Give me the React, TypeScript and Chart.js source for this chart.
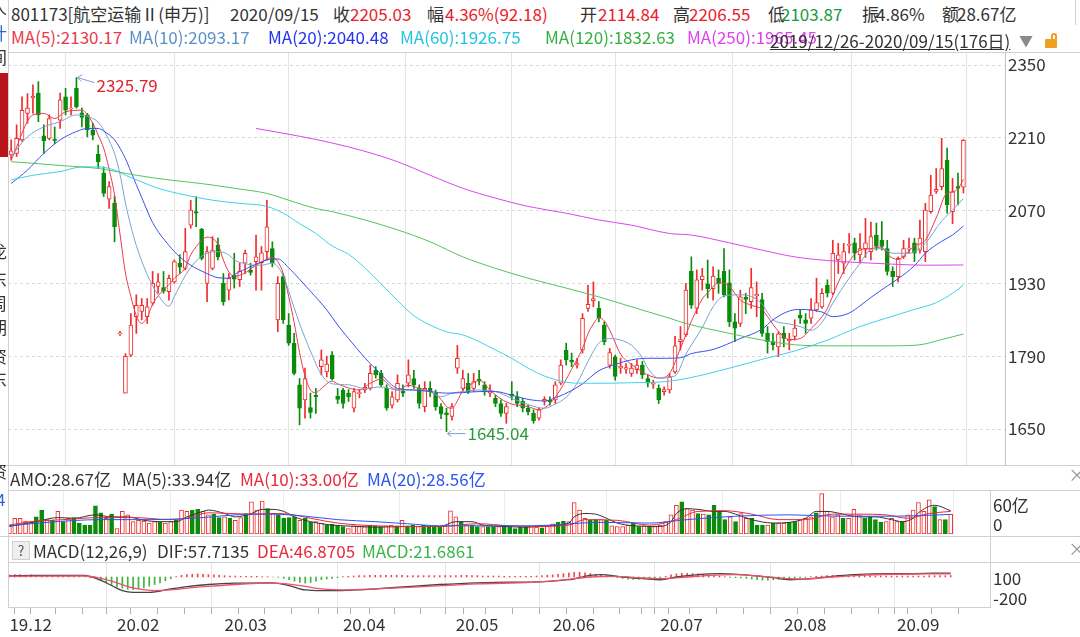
import React, { useEffect, useRef } from "react";
import { Chart, registerables } from "chart.js";
Chart.register(...registerables);

const FONT = '"Microsoft YaHei","Noto Sans CJK SC","Noto Sans",sans-serif';

// ---------------- data ----------------
const openP = [
  2177, 2180, 2206, 2257, 2287, 2296, 2214, 2209, 2207, 2244,
  2289, 2266, 2305, 2258, 2254, 2225, 2178, 2142, 2092, 2084,
  1833, 1719, 1792, 1866, 1876, 1866, 1892, 1924, 1922, 1914,
  1933, 1969, 1959, 2042, 2068, 2034, 1930, 1959, 2004, 1930,
  1917, 1946, 1937, 1969, 1955, 1972, 1970, 1991, 1997, 1860,
  1943, 1850, 1815, 1735, 1706, 1691, 1715, 1770, 1760, 1792,
  1713, 1725, 1719, 1690, 1718, 1725, 1728, 1763, 1757, 1728,
  1696, 1706, 1723, 1738, 1747, 1728, 1693, 1728, 1719, 1693,
  1681, 1674, 1767, 1728, 1738, 1728, 1746, 1735, 1719, 1709,
  1699, 1680, 1717, 1712, 1703, 1690, 1680, 1671, 1703, 1705,
  1706, 1738, 1802, 1782, 1773, 1802, 1882, 1897, 1882, 1850,
  1773, 1789, 1767, 1765, 1757, 1764, 1773, 1747, 1736, 1728,
  1722, 1725, 1760, 1818, 1831, 1953, 1882, 1937, 1929, 1920,
  1940, 1953, 1931, 1856, 1853, 1903, 1895, 1906, 1899, 1834,
  1818, 1808, 1834, 1820, 1828, 1869, 1860, 1863, 1879, 1885,
  1927, 1911, 1975, 1969, 2003, 2008, 1985, 1997, 1991, 2023,
  2013, 1997, 1953, 1943, 1981, 1996, 2008, 1994, 1991, 2068,
  2107, 2116, 2167, 2068, 2116, 2114.84,
];
const highP = [
  2206, 2235, 2289, 2295, 2312, 2318, 2235, 2254, 2231, 2296,
  2305, 2289, 2325.79, 2267, 2257, 2238, 2196, 2154, 2126, 2097,
  1838, 1795, 1872, 1908, 1901, 1901, 1953, 1949, 1953, 1946,
  1975, 1985, 2036, 2090, 2097, 2036, 2001, 2020, 2017, 1949,
  1949, 1988, 1969, 1994, 1969, 2023, 2001, 2090, 2010, 1943,
  1949, 1872, 1834, 1747, 1767, 1719, 1728, 1802, 1790, 1799,
  1728, 1728, 1726, 1728, 1726, 1738, 1773, 1770, 1763, 1735,
  1722, 1754, 1735, 1783, 1763, 1735, 1741, 1741, 1725, 1699,
  1690, 1699, 1811, 1763, 1757, 1757, 1763, 1741, 1735, 1715,
  1706, 1699, 1741, 1722, 1709, 1696, 1687, 1690, 1712, 1712,
  1741, 1783, 1815, 1796, 1786, 1872, 1927, 1933, 1895, 1856,
  1805, 1792, 1786, 1776, 1776, 1783, 1780, 1754, 1744, 1735,
  1731, 1757, 1828, 1847, 1930, 1981, 1956, 1959, 1975, 1962,
  1956, 1997, 1956, 1872, 1917, 1911, 1959, 1933, 1911, 1847,
  1834, 1837, 1847, 1834, 1860, 1879, 1872, 1901, 1940, 1920,
  1937, 2013, 2007, 2007, 2026, 2017, 2026, 2055, 2048, 2046,
  2049, 2013, 1962, 1981, 2013, 2017, 2017, 2052, 2084, 2138,
  2151, 2209, 2190, 2132, 2142, 2206.55,
];
const lowP = [
  2167, 2174, 2203, 2238, 2257, 2241, 2180, 2206, 2199, 2228,
  2254, 2254, 2267, 2231, 2212, 2206, 2151, 2097, 2074, 2010,
  1830, 1719, 1789, 1834, 1860, 1853, 1888, 1911, 1911, 1898,
  1930, 1949, 1956, 2036, 2039, 1975, 1895, 1956, 1975, 1888,
  1898, 1921, 1924, 1949, 1946, 1917, 1917, 1975, 1962, 1837,
  1853, 1811, 1754, 1658, 1671, 1671, 1680, 1754, 1750, 1744,
  1699, 1690, 1703, 1683, 1710, 1720, 1725, 1748, 1731, 1686,
  1690, 1702, 1712, 1731, 1728, 1690, 1683, 1712, 1686, 1670,
  1645.04, 1667, 1757, 1722, 1718, 1722, 1735, 1715, 1712, 1693,
  1674, 1661, 1706, 1693, 1683, 1677, 1661, 1667, 1696, 1696,
  1699, 1735, 1773, 1770, 1767, 1796, 1876, 1885, 1856, 1812,
  1767, 1744, 1757, 1757, 1751, 1757, 1747, 1731, 1728, 1699,
  1715, 1719, 1757, 1802, 1828, 1882, 1872, 1917, 1902, 1898,
  1911, 1904, 1847, 1818, 1847, 1872, 1882, 1866, 1828, 1796,
  1802, 1789, 1808, 1802, 1821, 1853, 1834, 1853, 1876, 1882,
  1904, 1908, 1949, 1949, 1988, 1975, 1969, 1980, 1975, 1994,
  1994, 1946, 1924, 1933, 1978, 1988, 1972, 1988, 1972, 2065,
  2103, 2110, 2065, 2045, 2081, 2103.87,
];
const closeP = [
  2185, 2209, 2263, 2267, 2290, 2254, 2204, 2247, 2205, 2283,
  2263, 2267, 2270, 2249, 2225, 2215, 2164, 2103, 2116, 2039,
  1835, 1790, 1850, 1888, 1888, 1885, 1930, 1933, 1915, 1940,
  1972, 1961, 1991, 2071, 2065, 1978, 1991, 1994, 1981, 1895,
  1940, 1938, 1953, 1988, 1951, 1981, 1989, 2039, 1969, 1930,
  1860, 1815, 1757, 1690, 1747, 1682, 1712, 1783, 1775, 1747,
  1707, 1699, 1712, 1722, 1720, 1730, 1757, 1754, 1735, 1690,
  1712, 1738, 1719, 1754, 1735, 1699, 1728, 1722, 1693, 1679,
  1677, 1693, 1786, 1747, 1722, 1741, 1742, 1722, 1725, 1699,
  1680, 1693, 1713, 1699, 1690, 1683, 1666, 1687, 1707, 1702,
  1735, 1773, 1783, 1779, 1776, 1863, 1890, 1901, 1863, 1818,
  1797, 1751, 1771, 1768, 1767, 1773, 1754, 1738, 1739, 1706,
  1726, 1751, 1810, 1822, 1917, 1888, 1937, 1944, 1920, 1944,
  1930, 1908, 1856, 1844, 1904, 1899, 1922, 1909, 1834, 1818,
  1812, 1833, 1824, 1823, 1844, 1863, 1853, 1879, 1893, 1911,
  1911, 1988, 1985, 1991, 2005, 1988, 1997, 2008, 2020, 2001,
  2001, 1953, 1943, 1978, 1997, 1998, 1988, 2017, 2071, 2100,
  2111, 2151, 2081, 2106, 2112.85, 2205.03,
];
// turnover (亿)
const amount = [
  13, 23, 23, 19, 18, 25, 35, 21, 20, 33,
  18, 23, 24, 16, 13, 13, 41, 31, 23, 29,
  8, 33, 28, 18, 20, 19, 16, 18, 17, 16,
  18, 20, 35, 33, 35, 36, 33, 28, 29, 24,
  25, 23, 20, 24, 30, 47, 35, 48, 37, 30,
  28, 23, 24, 25, 20, 23, 17, 18, 16, 13,
  14, 12, 11, 8, 12, 11, 11, 13, 12, 11,
  12, 13, 12, 20, 12, 13, 11, 13, 12, 11,
  11, 12, 34, 25, 18, 13, 13, 11, 11, 11,
  11, 11, 12, 11, 8, 10, 10, 11, 10, 9,
  12, 15, 17, 19, 18, 46, 35, 23, 20, 21,
  21, 20, 12, 11, 11, 13, 16, 11, 12, 11,
  11, 13, 18, 28, 42, 47, 37, 35, 30, 29,
  28, 42, 33, 21, 25, 18, 30, 23, 23, 13,
  13, 13, 16, 16, 16, 17, 18, 21, 23, 25,
  31, 59, 33, 25, 28, 23, 23, 36, 28, 23,
  25, 21, 17, 18, 23, 18, 18, 28, 35, 46,
  33, 50, 40, 21, 21, 28.67,
];
const macdBar = [
  30, 35, 35, 30, 30, 25, 25, 20, 20, 15,
  15, 10, 10, 5, 0, -10, -25, -50, -80, -110,
  -140, -165, -180, -185, -175, -160, -135, -110, -85, -55,
  -25, 5, 25, 35, 40, 45, 40, 35, 30, 25,
  20, 15, 15, 10, 10, 10, 10, 5, 5, 0,
  -5, -20, -40, -60, -80, -90, -80, -60, -40, -30,
  -20, -10, 5, 10, 15, 20, 20, 25, 25, 25,
  25, 25, 25, 25, 20, 20, 20, 20, 20, 20,
  20, 20, 20, 20, 25, 25, 20, 20, 15, 15,
  15, 15, 10, 10, 10, 10, 10, 10, 15, 20,
  25, 30, 40, 50, 60, 70, 70, 60, 50, 40,
  30, 20, 10, -10, -20, -30, -35, -35, -30, -25,
  -20, -10, 10, 30, 45, 55, 55, 50, 45, 40,
  30, 25, 15, 5, -5, -10, -15, -20, -30, -40,
  -45, -45, -40, -35, -30, -20, -15, -10, -5, 5,
  10, 15, 20, 25, 25, 25, 20, 20, 20, 20,
  20, 15, 15, 15, 15, 15, 15, 15, 15, 15,
  15, 20, 20, 20, 20, 21.69,
];

// moving-average lines, [day index, value]
const ma5Pts = [[0,2167],[4,2254],[6,2257],[8,2247],[10,2260],[13,2263],[15,2238],[16,2215],[17,2190],[18,2150],[19,2100],[20,2025],[21,1950],[22,1905],[23,1868],[24,1853],[25,1865],[26,1890],[28,1918],[29,1928],[30,1940],[32,1960],[33,1985],[35,2012],[36,2019],[38,2005],[39,1975],[40,1952],[41,1944],[43,1950],[44,1958],[46,1971],[48,1980],[49,1972],[50,1949],[51,1905],[52,1855],[53,1797],[54,1752],[55,1725],[56,1720],[57,1728],[59,1742],[60,1737],[62,1729],[64,1725],[66,1738],[68,1746],[70,1729],[71,1725],[73,1734],[75,1728],[77,1722],[79,1707],[80,1693],[81,1690],[82,1704],[83,1724],[85,1739],[86,1744],[88,1725],[90,1708],[92,1698],[94,1695],[95,1693],[97,1687],[99,1699],[101,1727],[103,1765],[105,1805],[106,1833],[107,1852],[108,1864],[109,1858],[110,1840],[112,1794],[114,1774],[116,1760],[117,1754],[119,1748],[121,1757],[123,1805],[125,1857],[127,1900],[128,1912],[130,1931],[131,1930],[132,1924],[134,1898],[136,1888],[138,1880],[139,1866],[141,1838],[143,1822],[145,1824],[147,1843],[149,1866],[150,1882],[152,1932],[154,1972],[156,1994],[158,1997],[160,2000],[161,1986],[163,1976],[165,1993],[166,2002],[168,2013],[170,2056],[172,2104],[173,2106],[174,2112],[175,2130.17]];
const ma10Pts = [[0,2174],[3,2212],[6,2231],[9,2241],[12,2254],[14,2251],[16,2240],[17,2225],[18,2205],[19,2180],[20,2140],[21,2085],[22,2040],[23,2003],[25,1947],[27,1908],[29,1886],[30,1905],[32,1945],[34,1973],[36,1988],[38,1991],[40,1985],[41,1975],[43,1968],[45,1965],[46,1965],[48,1969],[50,1945],[51,1915],[53,1853],[55,1800],[57,1755],[59,1737],[62,1735],[65,1728],[68,1731],[71,1725],[74,1725],[77,1722],[79,1712],[81,1719],[83,1722],[86,1725],[89,1722],[92,1709],[95,1697],[98,1690],[100,1698],[102,1711],[104,1738],[106,1780],[108,1815],[110,1824],[112,1821],[114,1811],[116,1787],[117,1767],[119,1748],[122,1752],[124,1794],[127,1845],[129,1885],[131,1906],[134,1908],[136,1905],[138,1890],[140,1860],[143,1852],[145,1847],[147,1840],[149,1855],[151,1892],[154,1940],[156,1969],[158,1995],[160,1997],[162,1988],[165,1988],[166,1991],[168,2007],[171,2050],[173,2071],[175,2093.17]];
const ma20Pts = [[0,2122],[3,2148],[6,2180],[9,2206],[12,2222],[14,2228],[16,2228],[17,2223],[19,2206],[21,2170],[22,2145],[24,2095],[26,2047],[29,2003],[31,1981],[33,1965],[36,1949],[38,1941],[40,1940],[41,1947],[44,1962],[47,1975],[49,1977],[51,1960],[53,1938],[55,1915],[58,1879],[60,1850],[62,1824],[65,1787],[68,1755],[71,1728],[74,1725],[77,1722],[80,1719],[83,1720],[86,1722],[89,1722],[92,1715],[95,1707],[98,1704],[100,1710],[103,1724],[105,1737],[108,1762],[111,1774],[114,1783],[117,1786],[120,1786],[123,1787],[125,1795],[129,1803],[134,1824],[138,1842],[140,1860],[143,1877],[145,1880],[149,1875],[151,1866],[154,1873],[156,1887],[158,1903],[161,1925],[163,1939],[166,1964],[168,1988],[171,2011],[173,2023],[175,2040.48]];
const ma60Pts = [[0,2129],[4,2138],[9,2145],[13,2154],[16,2154],[19,2148],[21,2138],[24,2125],[27,2113],[32,2100],[37,2090],[42,2084],[47,2078],[50,2065],[53,2045],[56,2026],[59,2002],[62,1986],[65,1960],[68,1929],[71,1897],[74,1868],[77,1850],[80,1837],[83,1831],[86,1818],[89,1802],[92,1786],[95,1767],[98,1752],[102,1740],[105,1738],[108,1738],[114,1739],[120,1741],[124,1747],[132,1767],[138,1784],[144,1800],[150,1821],[156,1847],[162,1867],[166,1880],[170,1893],[173,1911],[175,1926.75]];
const ma120Pts = [[0,2164],[4,2161],[10,2156],[16,2151],[23,2138],[29,2129],[35,2122],[41,2113],[47,2103],[51,2090],[56,2074],[59,2068],[65,2052],[71,2033],[77,2010],[83,1981],[89,1959],[95,1940],[102,1921],[108,1904],[114,1885],[121,1863],[124,1853],[132,1834],[138,1821],[144,1812],[150,1810],[156,1810],[162,1810],[167,1812],[171,1822],[175,1832.63]];
const ma250Pts = [[45,2228],[53,2213],[59,2200],[65,2184],[71,2164],[77,2138],[83,2113],[89,2094],[95,2078],[102,2065],[108,2052],[114,2042],[121,2026],[125,2023],[132,2008],[138,1994],[144,1981],[150,1974],[156,1970],[162,1967],[168,1965],[175,1965.45]];

const volMa5Pts = [[0,11],[5,18],[9,24],[12,23],[16,28],[19,25],[22,25],[25,20],[28,18],[31,18],[33,25],[36,33],[37,35],[40,30],[42,25],[45,30],[47,36],[49,36],[51,33],[53,25],[56,18],[60,13],[65,11],[68,10],[74,11],[80,11],[83,18],[86,18],[88,13],[92,11],[96,10],[100,12],[104,16],[105,25],[107,30],[109,29],[111,23],[113,16],[116,12],[121,11],[123,18],[124,30],[126,37],[128,36],[131,33],[133,33],[135,29],[138,21],[142,16],[145,17],[148,23],[150,33],[152,33],[155,29],[158,25],[161,25],[164,21],[166,18],[168,23],[169,31],[172,42],[175,33.94]];
const volMa10Pts = [[0,13],[4,18],[10,21],[17,24],[23,24],[30,21],[33,23],[37,31],[41,30],[45,29],[49,30],[52,29],[56,23],[61,16],[68,12],[74,11],[80,11],[87,15],[93,12],[97,11],[104,13],[107,21],[113,20],[119,13],[124,21],[128,33],[133,34],[138,29],[143,21],[148,21],[153,29],[158,29],[163,28],[167,23],[171,30],[175,33.0]];
const volMa20Pts = [[0,12],[7,17],[17,21],[26,21],[36,24],[42,28],[49,29],[55,26],[61,21],[68,18],[74,15],[80,12],[90,12],[97,12],[110,17],[119,16],[126,21],[135,26],[145,28],[154,26],[164,26],[175,28.56]];

const difPts = [[0,15],[5,25],[10,25],[14,25],[17,-50],[19,-125],[21,-200],[23,-225],[26,-225],[30,-175],[33,-140],[37,-110],[42,-90],[49,-85],[52,-125],[55,-190],[58,-200],[61,-200],[65,-190],[68,-175],[74,-140],[80,-110],[87,-85],[93,-75],[97,-75],[104,-40],[108,25],[110,35],[114,0],[118,-25],[121,-40],[124,0],[128,35],[132,50],[136,35],[142,-10],[145,-40],[149,-25],[153,10],[157,35],[164,50],[167,50],[172,55],[175,57.71]];
const deaPts = [[0,10],[14,15],[17,-20],[19,-60],[22,-140],[24,-175],[27,-200],[30,-190],[35,-150],[42,-110],[49,-90],[54,-125],[58,-175],[62,-190],[68,-175],[77,-140],[87,-100],[97,-80],[102,-50],[108,0],[112,10],[118,-15],[121,-25],[126,0],[130,25],[135,35],[140,10],[145,-25],[148,-30],[153,0],[158,25],[164,40],[170,45],[175,46.87]];

const priceTicks = [1650, 1790, 1930, 2070, 2210, 2350];
const monthStartIdx = [20, 40, 62, 83, 101, 121, 144, 165];
const monthLabelIdx = [0, 20, 40, 62, 83, 101, 121, 144, 165];
const monthLabels = ["19.12", "20.02", "20.03", "20.04", "20.05", "20.06", "20.07", "20.08", "20.09"];
const weekStartIdx = [0, 2, 6, 11, 16, 20, 25, 30, 35, 40, 45, 50, 55, 60, 62, 65, 69, 74, 79, 83, 86, 91, 96, 101, 106, 111, 116, 119, 121, 124, 129, 134, 139, 144, 149, 154, 159, 164, 165, 169, 174];

// ---------------- styling ----------------
const RED = "#f02c2c";
const GREEN = "#0a8c0a";
const TXT = "#333333";
const FS = 17;
const C_MA5 = "#ea3a4e";
const C_MA10 = "#7aa2d2";
const C_MA20 = "#3a52ee";
const C_MA60 = "#3fd0ea";
const C_MA120 = "#56c25a";
const C_MA250 = "#dd44f0";

const idx = openP.map((_, i) => i);
const isUp = (i: number) => closeP[i] >= openP[i];
const candleColor = idx.map((i) => (isUp(i) ? RED : GREEN));

const toXY = (pts: number[][]) => pts.map(([x, y]) => ({ x, y }));
const line = (pts: number[][], color: string, width = 1) => ({
  type: "line" as const,
  data: toXY(pts),
  borderColor: color,
  borderWidth: width,
  pointRadius: 0,
  cubicInterpolationMode: "monotone" as const,
  order: 1,
});

const baseOpts = {
  responsive: false,
  animation: false as const,
  devicePixelRatio: 1,
  events: [] as any[],
  plugins: { legend: { display: false }, tooltip: { enabled: false } },
};

const extremaPlugin = {
  id: "extrema",
  afterDatasetsDraw(chart: any) {
    const { ctx, scales } = chart;
    const x = scales.x, y = scales.y;
    let hi = 0, lo = 0;
    highP.forEach((v, i) => { if (v > highP[hi]) hi = i; });
    lowP.forEach((v, i) => { if (v < lowP[lo]) lo = i; });
    ctx.save();
    ctx.font = `${FS}px ${FONT}`;
    ctx.textBaseline = "middle";
    ctx.textAlign = "left";
    ctx.strokeStyle = "#7f9fcf";
    ctx.lineWidth = 1;
    const hx = x.getPixelForValue(hi), hy = y.getPixelForValue(highP[hi]);
    ctx.beginPath(); ctx.moveTo(hx + 1, hy); ctx.lineTo(hx + 18, hy + 5); ctx.stroke();
    ctx.beginPath(); ctx.moveTo(hx + 6, hy - 3); ctx.lineTo(hx + 1, hy); ctx.lineTo(hx + 5, hy + 4); ctx.stroke();
    ctx.fillStyle = "#e0202a";
    ctx.fillText(highP[hi].toFixed(2), hx + 20, hy + 8);
    const lx = x.getPixelForValue(lo), ly = y.getPixelForValue(lowP[lo]);
    ctx.beginPath(); ctx.moveTo(lx + 1, ly + 2); ctx.lineTo(lx + 19, ly + 2); ctx.stroke();
    ctx.beginPath(); ctx.moveTo(lx + 5, ly - 1); ctx.lineTo(lx + 1, ly + 2); ctx.lineTo(lx + 5, ly + 5); ctx.stroke();
    ctx.fillStyle = "#2a9a3a";
    ctx.fillText(lowP[lo].toFixed(2), lx + 21, ly + 2);
    ctx.restore();
  },
};

function MainChart() {
  const ref = useRef<HTMLCanvasElement>(null);
  useEffect(() => {
    const chart = new Chart(ref.current!, {
      type: "bar",
      data: {
        datasets: [
          {
            type: "bar",
            data: idx.map((i) => ({ x: i, y: [lowP[i], highP[i]] })) as any,
            backgroundColor: candleColor,
            barThickness: 1,
            grouped: false,
            order: 10,
          } as any,
          {
            type: "bar",
            data: idx.map((i) => ({ x: i, y: [openP[i], closeP[i]] })) as any,
            backgroundColor: idx.map((i) => (isUp(i) ? "#ffffff" : GREEN)),
            borderColor: candleColor,
            borderWidth: 1,
            borderSkipped: false,
            barThickness: 4,
            grouped: false,
            order: 9,
          } as any,
          line(ma120Pts, C_MA120),
          line(ma250Pts, C_MA250),
          line(ma60Pts, C_MA60),
          line(ma20Pts, C_MA20),
          line(ma10Pts, C_MA10),
          line(ma5Pts, C_MA5),
        ],
      },
      options: {
        ...baseOpts,
        layout: { padding: { left: 8, right: 0, top: 0, bottom: 0 } },
        scales: {
          x: {
            type: "linear",
            min: -0.58,
            max: 182.64,
            offset: false,
            afterBuildTicks: (s: any) => { s.ticks = monthStartIdx.map((v) => ({ value: v })); },
            afterFit: (s: any) => { s.height = 0; s.paddingLeft = 0; s.paddingRight = 0; },
            ticks: { display: false },
            grid: { color: "#e4e4e4", drawTicks: false },
            border: { display: false },
          },
          y: {
            position: "right",
            min: 1580.8,
            max: 2375,
            afterBuildTicks: (s: any) => { s.ticks = priceTicks.map((v) => ({ value: v })); },
            afterFit: (s: any) => { s.width = 75; s.paddingTop = 0; s.paddingBottom = 0; },
            ticks: { color: TXT, font: { family: FONT, size: FS }, padding: 3, callback: (v: any) => String(v) },
            grid: { color: "#d8d8d8", drawTicks: false },
            border: { display: true, color: "#c4c4c4", dash: [3, 3] },
          },
        },
      } as any,
      plugins: [extremaPlugin],
    });
    return () => chart.destroy();
  }, []);
  return <canvas ref={ref} width={1080} height={413} style={{ position: "absolute", left: 0, top: 52 }} />;
}

const subX = {
  type: "linear",
  min: -0.26,
  max: 182.3,
  offset: false,
};

function VolumeChart() {
  const ref = useRef<HTMLCanvasElement>(null);
  useEffect(() => {
    const chart = new Chart(ref.current!, {
      type: "bar",
      data: {
        datasets: [
          {
            type: "bar",
            data: idx.map((i) => ({ x: i, y: amount[i] })) as any,
            backgroundColor: idx.map((i) => (isUp(i) ? "#ffffff" : GREEN)),
            borderColor: candleColor,
            borderWidth: 1,
            borderSkipped: false,
            barThickness: 4,
            grouped: false,
            order: 9,
          } as any,
          line(volMa20Pts, "#2a55ee"),
          line(volMa10Pts, "#e8283c"),
          line(volMa5Pts, "#333333"),
        ],
      },
      options: {
        ...baseOpts,
        layout: { padding: { left: 8, right: 90, top: 0, bottom: 0 } },
        scales: {
          x: {
            ...subX,
            afterBuildTicks: (s: any) => { s.ticks = monthStartIdx.map((v) => ({ value: v })); },
            afterFit: (s: any) => { s.height = 0; s.paddingLeft = 0; s.paddingRight = 0; },
            ticks: { display: false },
            grid: { color: "#ececec", drawTicks: false },
            border: { display: false },
          },
          y: { display: false, min: 0, max: 64.3 },
        },
      } as any,
    });
    return () => chart.destroy();
  }, []);
  return <canvas ref={ref} width={1080} height={44} style={{ position: "absolute", left: 0, top: 490 }} />;
}

function MacdChart() {
  const ref = useRef<HTMLCanvasElement>(null);
  useEffect(() => {
    const chart = new Chart(ref.current!, {
      type: "bar",
      data: {
        datasets: [
          {
            type: "bar",
            data: idx.map((i) => ({ x: i, y: macdBar[i] })) as any,
            backgroundColor: idx.map((i) => (macdBar[i] >= 0 ? "#f04848" : "#3cb43c")),
            barThickness: 1,
            grouped: false,
            order: 9,
          } as any,
          line(deaPts, "#f0506a", 1.3),
          line(difPts, "#444444", 1.3),
        ],
      },
      options: {
        ...baseOpts,
        layout: { padding: { left: 8, right: 90, top: 0, bottom: 0 } },
        scales: {
          x: {
            ...subX,
            position: "bottom",
            afterBuildTicks: (s: any) => { s.ticks = weekStartIdx.map((v) => ({ value: v })); },
            afterFit: (s: any) => { s.height = 30; s.paddingLeft = 0; s.paddingRight = 0; },
            ticks: {
              display: true,
              autoSkip: false,
              maxRotation: 0,
              align: "start",
              padding: 0,
              color: TXT,
              font: { family: FONT, size: FS },
              callback: (v: any) => {
                const k = monthLabelIdx.indexOf(v);
                return k >= 0 ? monthLabels[k] : "";
              },
            },
            grid: {
              color: (c: any) => (c.tick && monthStartIdx.includes(c.tick.value) ? "#e6e6e6" : "rgba(0,0,0,0)"),
              tickColor: "#b0b0b0",
              tickLength: 7,
              drawTicks: true,
            },
            border: { display: true, color: "#cfcfcf" },
          },
          y: { display: false, min: -440, max: 220 },
        },
      } as any,
    });
    return () => chart.destroy();
  }, []);
  return <canvas ref={ref} width={1080} height={75} style={{ position: "absolute", left: 0, top: 562 }} />;
}

type TI = { t: string; x: number; cy: number; c?: string; s?: number; u?: boolean };
const T = ({ t, x, cy, c = TXT, s = FS, u }: TI) => (
  <span
    style={{
      position: "absolute",
      left: x,
      top: cy - s / 2 - 1,
      fontSize: s,
      lineHeight: `${s + 2}px`,
      color: c,
      whiteSpace: "nowrap",
      fontFamily: FONT,
      textDecoration: u ? "underline" : "none",
    }}
  >
    {t}
  </span>
);

const texts: TI[] = [
  { t: "801173[航空运输Ⅱ(申万)]", x: 11, cy: 13 },
  { t: "2020/09/15", x: 230, cy: 13 },
  { t: "收", x: 333, cy: 13 },
  { t: "2205.03", x: 350, cy: 13, c: "#e8202a" },
  { t: "幅", x: 427, cy: 13 },
  { t: "4.36%(92.18)", x: 445, cy: 13, c: "#e8202a" },
  { t: "开", x: 580, cy: 13 },
  { t: "2114.84", x: 598, cy: 13, c: "#e8202a" },
  { t: "高", x: 673, cy: 13 },
  { t: "2206.55", x: 689, cy: 13, c: "#e8202a" },
  { t: "低", x: 768, cy: 13 },
  { t: "2103.87", x: 781, cy: 13, c: "#1a9a3a" },
  { t: "振", x: 862, cy: 13 },
  { t: "4.86%", x: 876, cy: 13 },
  { t: "额", x: 942, cy: 13 },
  { t: "28.67亿", x: 957, cy: 13 },
  { t: "MA(5):2130.17", x: 11, cy: 36, c: C_MA5 },
  { t: "MA(10):2093.17", x: 129, cy: 36, c: "#5b8fc8" },
  { t: "MA(20):2040.48", x: 268, cy: 36, c: "#2233ee" },
  { t: "MA(60):1926.75", x: 400, cy: 36, c: "#22c4e0" },
  { t: "MA(120):1832.63", x: 545, cy: 36, c: "#35b040" },
  { t: "MA(250):1965.45", x: 687, cy: 36, c: "#e040f0" },
  { t: "2019/12/26-2020/09/15(176日)", x: 770, cy: 40, u: true },
  { t: "AMO:28.67亿", x: 10, cy: 478 },
  { t: "MA(5):33.94亿", x: 122, cy: 478 },
  { t: "MA(10):33.00亿", x: 240, cy: 478, c: "#e8283c" },
  { t: "MA(20):28.56亿", x: 367, cy: 478, c: "#2a55ee" },
  { t: "MACD(12,26,9)", x: 33, cy: 550 },
  { t: "DIF:57.7135", x: 157, cy: 550 },
  { t: "DEA:46.8705", x: 257, cy: 550, c: "#e8283c" },
  { t: "MACD:21.6861", x: 362, cy: 550, c: "#3cb44b" },
  { t: "60亿", x: 993, cy: 504 },
  { t: "0", x: 993, cy: 523 },
  { t: "100", x: 993, cy: 577 },
  { t: "-200", x: 993, cy: 597 },
  { t: "×", x: 1068, cy: 474, c: "#999", s: 18 },
  { t: "×", x: 1068, cy: 548, c: "#999", s: 18 },
];

const edgeChars: TI[] = [
  { t: "人", x: -10, cy: 6 },
  { t: "计", x: -10, cy: 32, c: "#2a6ad0" },
  { t: "间", x: -10, cy: 56 },
  { t: "龙", x: -10, cy: 250 },
  { t: "东", x: -10, cy: 278 },
  { t: "周", x: -10, cy: 302 },
  { t: "期", x: -10, cy: 326 },
  { t: "资", x: -10, cy: 355 },
  { t: "东", x: -10, cy: 378 },
  { t: "资", x: -10, cy: 470 },
  { t: "4", x: -4, cy: 498, c: "#2a6ad0" },
];

const HL = ({ y, x1 = 8, x2 = 1080, c = "#d0d0d0" }: any) => (
  <div style={{ position: "absolute", left: x1, top: y, width: x2 - x1, height: 1, background: c }} />
);
const VL = ({ x, y1, y2, c = "#d0d0d0" }: any) => (
  <div style={{ position: "absolute", left: x, top: y1, width: 1, height: y2 - y1, background: c }} />
);

export default function App() {
  return (
    <div style={{ position: "fixed", left: 0, top: 0, width: 1080, height: 637, background: "#fff", overflow: "hidden", fontFamily: FONT }}>
      <MainChart />
      <VolumeChart />
      <MacdChart />
      <HL y={52} />
      <HL y={465} x1={0} />
      <HL y={490} />
      <HL y={536} x1={0} />
      <HL y={562} />
      <VL x={8} y1={0} y2={608} />
      <VL x={990} y1={490} y2={607} />
      <VL x={1075} y1={0} y2={25} />
      <div style={{ position: "absolute", left: 0, top: 73, width: 8, height: 84, background: "#b8141c" }} />
      <div style={{ position: "absolute", left: 0, top: 0, width: 7, height: 637, overflow: "hidden" }}>
        {edgeChars.map((e, k) => <T key={k} {...e} />)}
      </div>
      {texts.map((e, k) => <T key={k} {...e} />)}
      <span style={{ position: "absolute", left: 1019, top: 30, fontSize: 14, color: "#8a8a8a", fontFamily: FONT }}>▼</span>
      <div style={{ position: "absolute", left: 1045, top: 39, width: 12, height: 9, background: "#f0a020", borderRadius: 1 }} />
      <div style={{ position: "absolute", left: 1051, top: 33, width: 6, height: 7, border: "2px solid #f0a020", borderBottom: "none", borderRadius: "4px 4px 0 0", boxSizing: "border-box" }} />
      <div style={{ position: "absolute", left: 12, top: 541, width: 18, height: 19, background: "#efefef", border: "1px solid #d0d0d0", boxSizing: "border-box", textAlign: "center", fontSize: 14, lineHeight: "17px", color: "#555", fontFamily: FONT }}>?</div>
    </div>
  );
}
